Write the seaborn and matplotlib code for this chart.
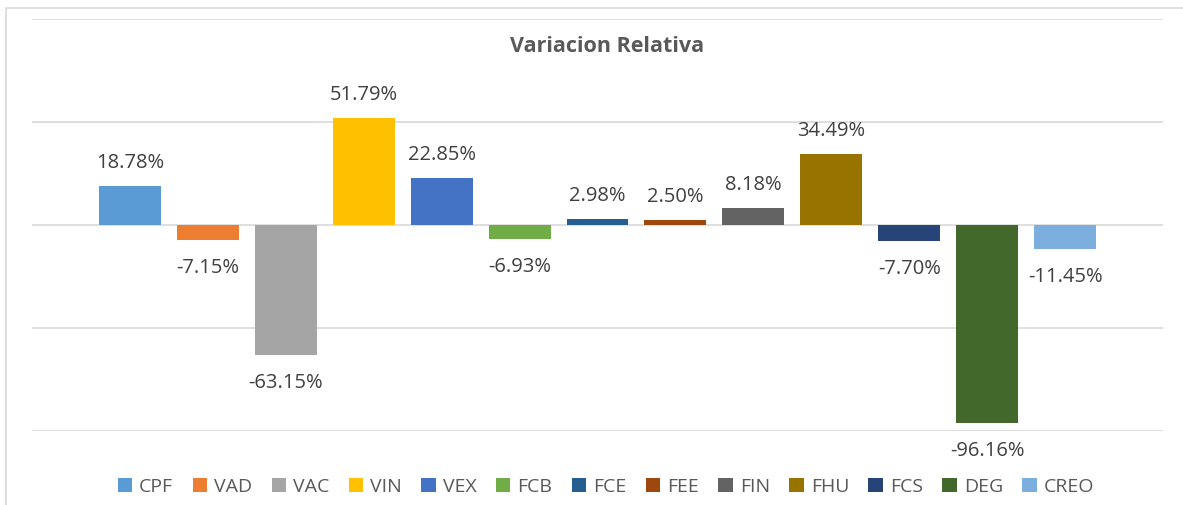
import matplotlib
matplotlib.use("Agg")
import matplotlib.pyplot as plt
import seaborn as sns
import pandas as pd
from matplotlib.patches import Rectangle, Patch

# datos
categorias = ["CPF", "VAD", "VAC", "VIN", "VEX", "FCB", "FCE", "FEE", "FIN", "FHU", "FCS", "DEG", "CREO"]
variacion = [18.78, -7.15, -63.15, 51.79, 22.85, -6.93, 2.98, 2.50, 8.18, 34.49, -7.70, -96.16, -11.45]
colores = ["#5B9BD5", "#ED7D31", "#A5A5A5", "#FFC000", "#4472C4", "#70AD47", "#255E91",
           "#9E480E", "#636363", "#997300", "#264478", "#43682B", "#7CAFDD"]

df = pd.DataFrame({"serie": categorias, "valor": variacion})

sns.set_style("white")
plt.rcParams["font.family"] = ["Open Sans", "DejaVu Sans"]

W, H = 1183, 505
fig = plt.figure(figsize=(W / 100, H / 100), dpi=100)

# marco del grafico
fig.patches.append(Rectangle((6 / W, -0.05), 1.1, 1 - 8 / H + 0.05, transform=fig.transFigure,
                             fill=False, edgecolor="#D9D9D9", linewidth=1.2))

ax = fig.add_axes([32 / W, 1 - 431 / H, (1163 - 32) / W, (431 - 19) / H])
sns.barplot(data=df, x="serie", y="valor", hue="serie", palette=colores, dodge=False,
            width=62 / 78, legend=False, saturation=1, linewidth=0, ax=ax)

ax.set_xlim(-98 / 78, 12 + 98 / 78)
ax.set_ylim(-100, 100)
ax.set_yticks([-100, -50, 0, 50, 100])
ax.yaxis.grid(True, color="#D9D9D9", linewidth=1.2)
ax.set_axisbelow(True)
ax.set_xticks([])
ax.set_yticklabels([])
ax.tick_params(left=False, bottom=False)
ax.set_xlabel("")
ax.set_ylabel("")
for s in ax.spines.values():
    s.set_visible(False)

# etiquetas
px = 200 / (431 - 19)
for i, v in enumerate(variacion):
    if v >= 0:
        ax.text(i, v + 13 * px, f"{v:.2f}%", ha="center", va="bottom", fontsize=14.5,
                color="#404040", clip_on=False)
    else:
        ax.text(i, v - 18 * px, f"{v:.2f}%", ha="center", va="top", fontsize=14.5,
                color="#404040", clip_on=False)

fig.text(607 / W, 1 - 47 / H, "Variacion Relativa", ha="center", va="center",
         fontsize=15.5, fontweight="bold", color="#595959")

handles = [Patch(facecolor=c, edgecolor="none") for c in colores]
fig.legend(handles, categorias, loc="center", bbox_to_anchor=(606 / W, 1 - 487 / H), ncol=13,
           frameon=False, fontsize=14, handlelength=0.75, handleheight=0.75,
           handletextpad=0.35, columnspacing=1.0, labelcolor="#595959")

fig.savefig("out.png", dpi=100)
